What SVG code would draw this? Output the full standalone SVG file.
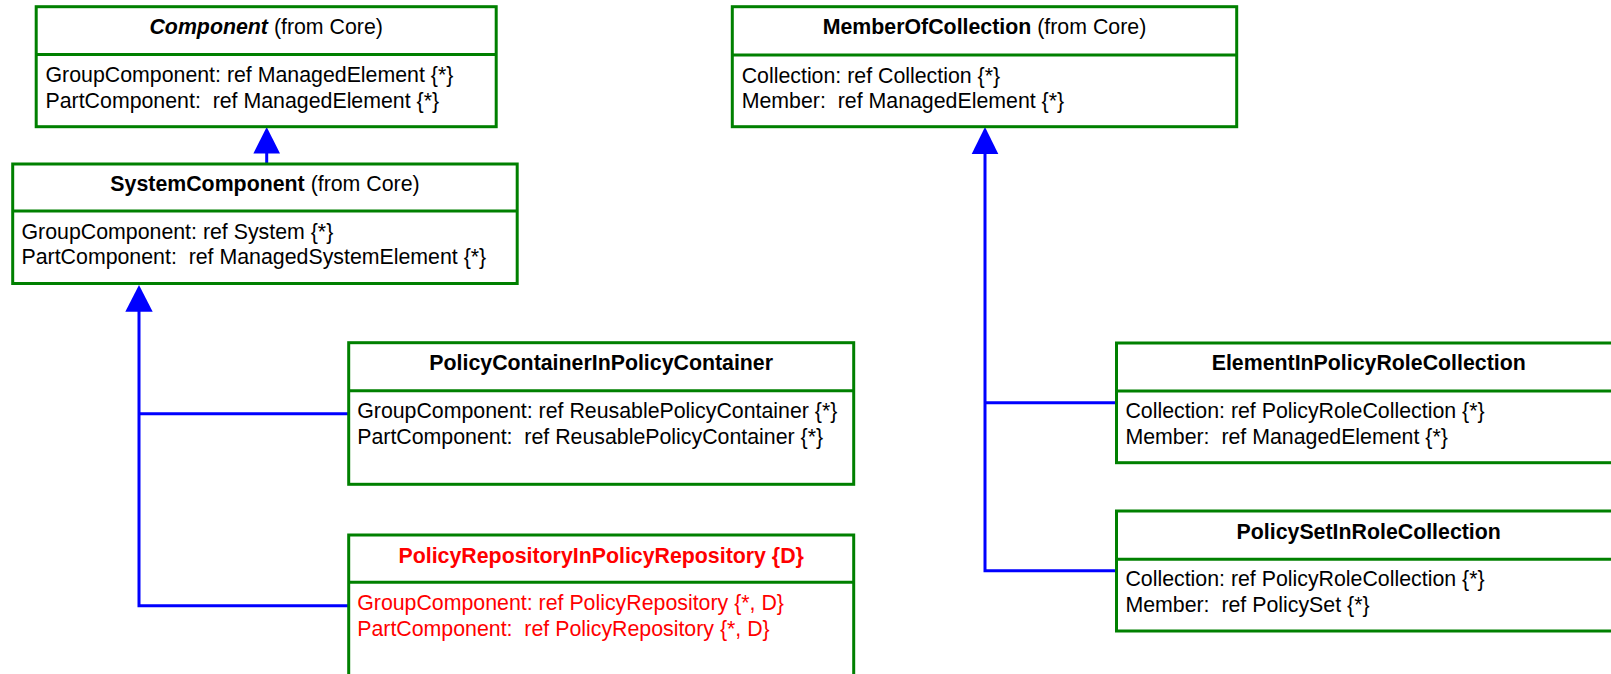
<svg xmlns="http://www.w3.org/2000/svg" width="1611" height="674" viewBox="0 0 1611 674" xml:space="preserve">
<style>
.box{fill:#ffffff;stroke:#008000;stroke-width:3}
.div{stroke:#008000;stroke-width:3}
text{font-family:"Liberation Sans",Arial,Helvetica,sans-serif;font-size:21.33px;fill:#000000;white-space:pre}
.t{text-anchor:middle}
.b{font-weight:bold}
.bi{font-weight:bold;font-style:italic}
.red{fill:#ff0000}
.conn{fill:none;stroke:#0000ff;stroke-width:3}
.head{fill:#0000ff;stroke:none}
</style>
<rect x="0" y="0" width="1611" height="674" fill="#ffffff"/>
<g id="connectors">
<path class="conn" d="M266.7,152 V163"/>
<polygon class="head" points="266.7,127 253.4,153.5 280,153.5"/>
<path class="conn" d="M348.7,605.7 H139 V310 M139,413.7 H348.7"/>
<polygon class="head" points="139,285 125.3,311.7 152.7,311.7"/>
<path class="conn" d="M985,152 V570.7 H1116.5 M985,402.7 H1116.5"/>
<polygon class="head" points="985,127 971.7,154 998.3,154"/>
</g>
<g id="Component">
<rect class="box" x="36.2" y="6.7" width="460" height="120"/>
<line class="div" x1="36.2" y1="54.5" x2="496.2" y2="54.5"/>
<text class="t" x="266.2" y="34.3"><tspan class="bi">Component</tspan> (from Core)</text>
<text x="45.5" y="82">GroupComponent: ref ManagedElement {*}</text>
<text x="45.5" y="107.6">PartComponent:  ref ManagedElement {*}</text>
</g>
<g id="SystemComponent">
<rect class="box" x="12.7" y="164" width="504.5" height="119.5"/>
<line class="div" x1="12.7" y1="211" x2="517.2" y2="211"/>
<text class="t" x="265" y="191.3"><tspan class="b">SystemComponent</tspan> (from Core)</text>
<text x="21.5" y="238.5">GroupComponent: ref System {*}</text>
<text x="21.5" y="264.3">PartComponent:  ref ManagedSystemElement {*}</text>
</g>
<g id="MemberOfCollection">
<rect class="box" x="732.3" y="6.7" width="504.4" height="120"/>
<line class="div" x1="732.3" y1="55" x2="1236.7" y2="55"/>
<text class="t" x="984.5" y="34.3"><tspan class="b">MemberOfCollection</tspan> (from Core)</text>
<text x="741.7" y="82.5">Collection: ref Collection {*}</text>
<text x="741.7" y="108.2">Member:  ref ManagedElement {*}</text>
</g>
<g id="PolicyContainerInPolicyContainer">
<rect class="box" x="348.7" y="342.7" width="505" height="141.6"/>
<line class="div" x1="348.7" y1="390.7" x2="853.7" y2="390.7"/>
<text class="t b" x="601.2" y="370.3">PolicyContainerInPolicyContainer</text>
<text x="357.2" y="418.3">GroupComponent: ref ReusablePolicyContainer {*}</text>
<text x="357.2" y="444">PartComponent:  ref ReusablePolicyContainer {*}</text>
</g>
<g id="PolicyRepositoryInPolicyRepository">
<rect class="box" x="348.7" y="535" width="505" height="200"/>
<line class="div" x1="348.7" y1="582.2" x2="853.7" y2="582.2"/>
<text class="t b red" x="601.2" y="562.5">PolicyRepositoryInPolicyRepository {D}</text>
<text class="red" x="357.2" y="610">GroupComponent: ref PolicyRepository {*, D}</text>
<text class="red" x="357.2" y="635.6">PartComponent:  ref PolicyRepository {*, D}</text>
</g>
<g id="ElementInPolicyRoleCollection">
<rect class="box" x="1116.5" y="343" width="505" height="119.7"/>
<line class="div" x1="1116.5" y1="391" x2="1621.5" y2="391"/>
<text class="t b" x="1368.7" y="370.3">ElementInPolicyRoleCollection</text>
<text x="1125.4" y="418">Collection: ref PolicyRoleCollection {*}</text>
<text x="1125.4" y="444">Member:  ref ManagedElement {*}</text>
</g>
<g id="PolicySetInRoleCollection">
<rect class="box" x="1116.5" y="511" width="505" height="120"/>
<line class="div" x1="1116.5" y1="559.3" x2="1621.5" y2="559.3"/>
<text class="t b" x="1368.7" y="538.5">PolicySetInRoleCollection</text>
<text x="1125.4" y="586.3">Collection: ref PolicyRoleCollection {*}</text>
<text x="1125.4" y="612.3">Member:  ref PolicySet {*}</text>
</g>
</svg>
